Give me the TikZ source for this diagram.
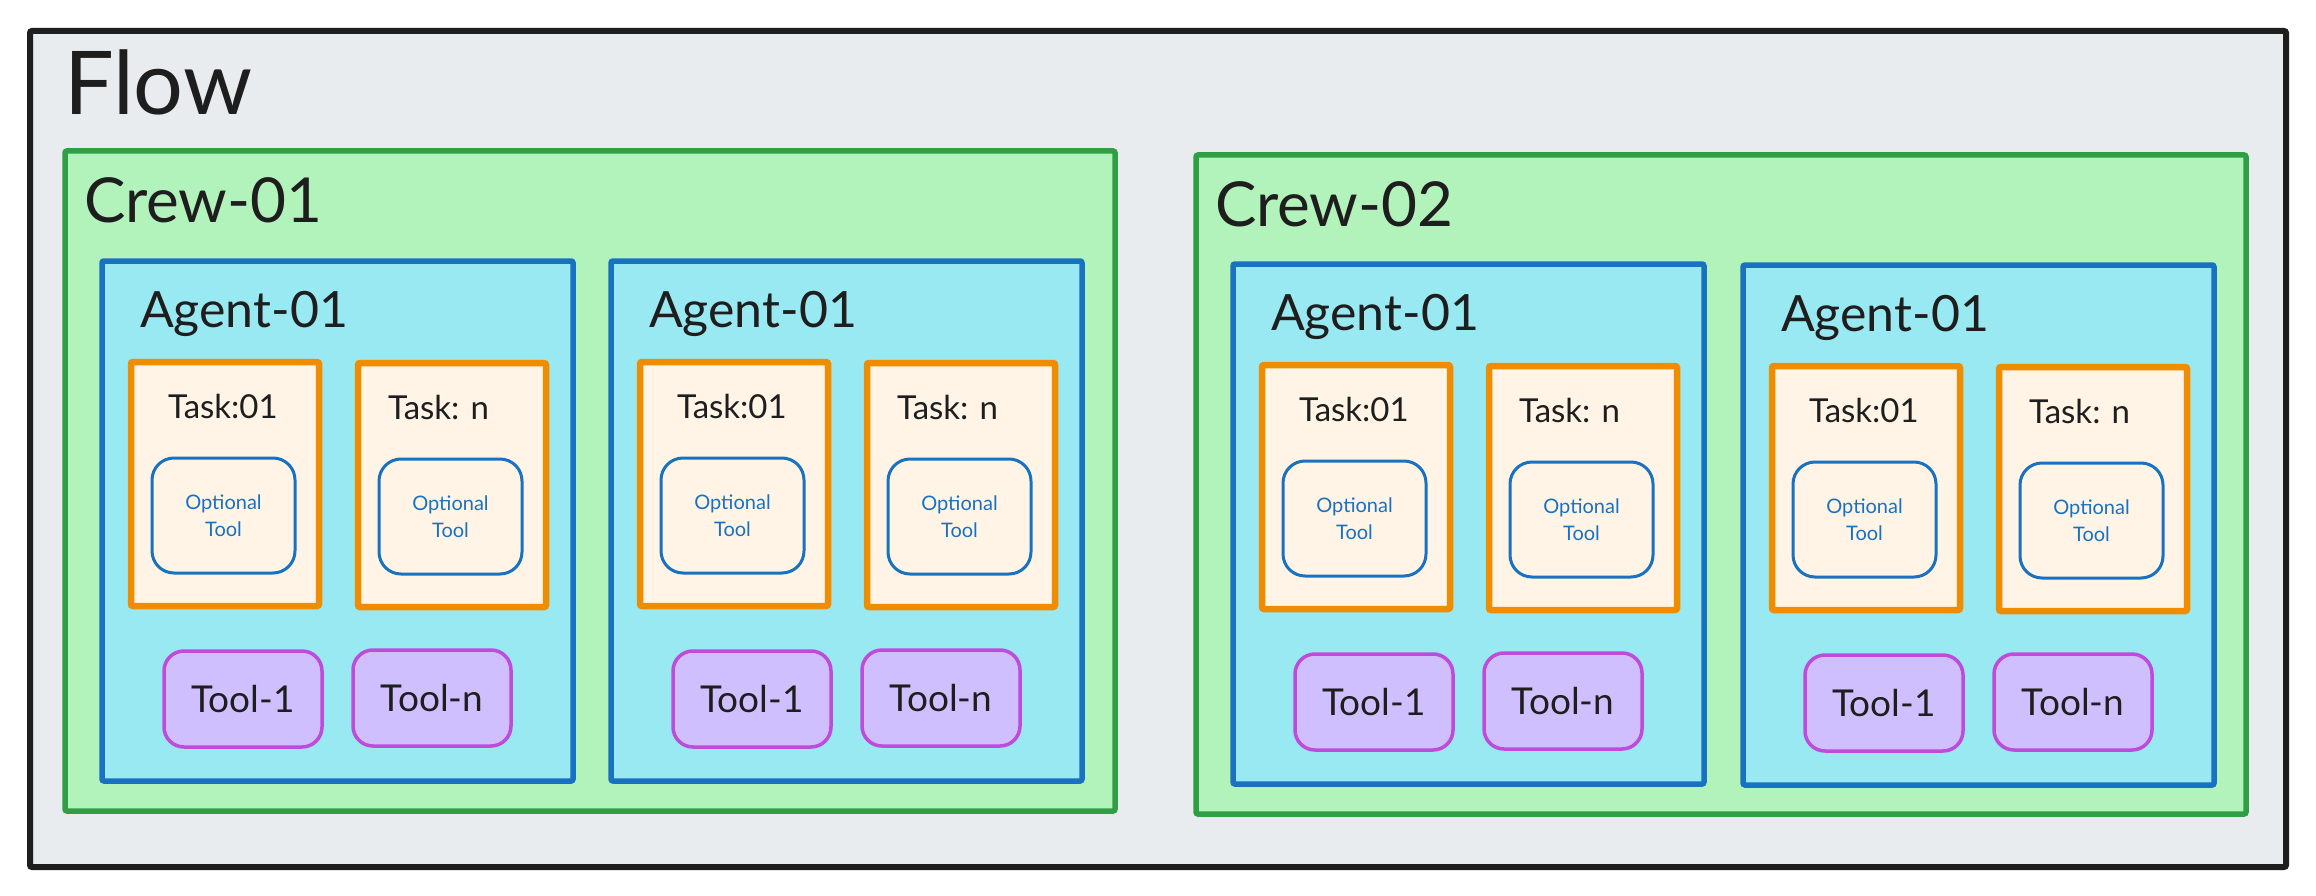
\documentclass[tikz,border=0pt]{standalone}
\usepackage{fontspec}
\setmainfont{Lato}
\usetikzlibrary{calc}
\definecolor{ink}{HTML}{1E1E1E}
\definecolor{flowfill}{HTML}{E9ECEF}
\definecolor{crewfill}{HTML}{B2F2BB}
\definecolor{crewline}{HTML}{2F9E44}
\definecolor{agentfill}{HTML}{99E9F2}
\definecolor{agentline}{HTML}{1971C2}
\definecolor{taskfill}{HTML}{FFF4E6}
\definecolor{taskline}{HTML}{F08C00}
\definecolor{toolfill}{HTML}{D0BFFF}
\definecolor{toolline}{HTML}{BE4BDB}
\tikzset{
  boxbase/.style={anchor=north west, inner sep=0pt, outer sep=0pt, rounded corners=2pt},
  flowbox/.style={boxbase, draw=ink, line width=6pt, fill=flowfill},
  crewbox/.style={boxbase, draw=crewline, line width=5.5pt, fill=crewfill},
  agentbox/.style={boxbase, draw=agentline, line width=5.5pt, fill=agentfill, minimum width=471pt, minimum height=520pt},
  taskbox/.style={boxbase, draw=taskline, line width=6.5pt, fill=taskfill, minimum width=188pt, minimum height=244pt},
  opttool/.style={boxbase, draw=agentline, line width=3pt, fill=taskfill, rounded corners=22pt, minimum width=143pt, minimum height=115pt, align=center, text=agentline, font=\fontsize{20}{27}\selectfont},
  toolbox/.style={boxbase, draw=toolline, line width=3.5pt, fill=toolfill, rounded corners=20pt, minimum width=158pt, minimum height=96pt, text=ink, font=\fontsize{37}{44}\selectfont},
  lbl/.style={anchor=base west, inner sep=0pt, outer sep=0pt, text=ink},
  flowlbl/.style={lbl, font=\fontsize{88}{104}\selectfont},
  crewlbl/.style={lbl, font=\fontsize{62}{74}\selectfont},
  agentlbl/.style={lbl, font=\fontsize{50}{60}\selectfont},
  tasklbl/.style={lbl, font=\fontsize{33}{40}\selectfont},
}
\newcommand\agentgroup[3]{%
  \node[agentbox] (#1) at (#2,#3) {};
  \node[agentlbl] (#1-label) at ($(#1.north west)+(38,66)$) {Agent-01};
  \node[taskbox] (#1-t1) at ($(#1.north west)+(29,101)$) {};
  \node[tasklbl] (#1-t1-label) at ($(#1-t1.north west)+(37,56)$) {Task:01};
  \node[opttool] (#1-t1-opt) at ($(#1-t1.north west)+(21,96)$) {Optional\\Tool};
  \node[taskbox] (#1-t2) at ($(#1.north west)+(256,102)$) {};
  \node[tasklbl] (#1-t2-label) at ($(#1-t2.north west)+(30,56)$) {Task: n};
  \node[opttool] (#1-t2-opt) at ($(#1-t2.north west)+(21,96)$) {Optional\\Tool};
  \node[toolbox] (#1-tool1) at ($(#1.north west)+(62,390)$) {Tool-1};
  \node[toolbox] (#1-tooln) at ($(#1.north west)+(251,389)$) {Tool-n};
}
\begin{document}
\begin{tikzpicture}[x=1pt,y=-1pt]
  \useasboundingbox[fill=white] (0,0) rectangle (2316,896);
  \node[flowbox, minimum width=2256pt, minimum height=836pt] (flow) at (30,31) {};
  \node[flowlbl] (flow-label) at ($(flow.north west)+(34,84)$) {Flow};
  \node[crewbox, minimum width=1050pt, minimum height=660pt] (crew1) at (65,151) {};
  \node[crewlbl] (crew1-label) at ($(crew1.north west)+(19,72)$) {Crew-01};
  \node[crewbox, minimum width=1050pt, minimum height=659pt] (crew2) at (1196,155) {};
  \node[crewlbl] (crew2-label) at ($(crew2.north west)+(19,72)$) {Crew-02};
  \agentgroup{a1}{102}{261}
  \agentgroup{a2}{611}{261}
  \agentgroup{a3}{1233}{264}
  \agentgroup{a4}{1743}{265}
\end{tikzpicture}
\end{document}
